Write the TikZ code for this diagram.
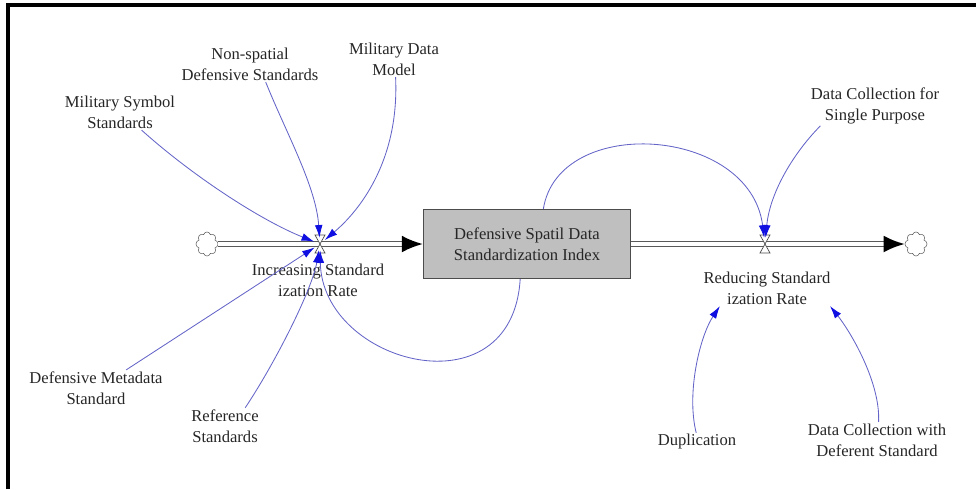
\documentclass[tikz,border=0pt]{standalone}
\usepackage{fontspec}
\setmainfont{Liberation Serif}
\usetikzlibrary{arrows.meta,shapes.symbols}
\definecolor{linkblue}{RGB}{100,100,200}
\definecolor{tipblue}{RGB}{15,15,225}

\begin{document}
\begin{tikzpicture}[x=0.025cm,y=-0.025cm,>={Latex[length=9pt,width=5.5pt,color=tipblue]},font=\fontsize{11.8}{15}\selectfont,
    var/.style={align=center,inner sep=1pt,text=black!85},
    stock/.style={draw=black!70,fill=black!25,line width=0.8pt,minimum width=5.175cm,minimum height=1.725cm,align=center,inner sep=1pt,text=black!85},
    rate/.style={circle,inner sep=0pt,minimum size=0.3cm},
    source/.style={cloud,cloud puffs=8,draw=black!60,fill=white,minimum width=0.55cm,minimum height=0.6cm,inner sep=0pt},
    pipe/.style={draw=black!65,line width=0.7pt,double,double distance=2.4pt,shorten >=9pt},
    pipe tip/.style={white,line width=1.6pt,-{Latex[length=15pt,width=12pt,color=black]}},
    valve/.style={draw=black!70,fill=white,line width=0.5pt},
    link/.style={->,draw=linkblue,line width=0.6pt}]
    \useasboundingbox (0,0) rectangle (976,489);
    \draw[line width=2.8pt] (8,489) -- (8,5) -- (976,5);

    % stock and flows
    \node[source] (cloudL) at (207,244) {};
    \node[rate] (vL) at (320,244) {};
    \node[var] (rL) at (318,280) {Increasing Standard\\ization Rate};
    \node[stock] (index) at (527,244) {Defensive Spatil Data\\Standardization Index};
    \node[rate] (vR) at (765,244) {};
    \node[var] (rR) at (767,288) {Reducing Standard\\ization Rate};
    \node[source] (cloudR) at (916,244) {};

    % auxiliaries
    \node[var] (mss) at (120,112) {Military Symbol\\Standards};
    \node[var] (nsd) at (250,64) {Non-spatial\\Defensive Standards};
    \node[var] (mdm) at (394,59) {Military Data\\Model};
    \node[var] (dms) at (96,388) {Defensive Metadata\\Standard};
    \node[var] (rs) at (225,426) {Reference\\Standards};
    \node[var] (dcsp) at (875,106) {Data Collection for\\Single Purpose};
    \node[var] (dup) at (697,442) {Duplication};
    \node[var] (dcds) at (877,440) {Data Collection with\\Deferent Standard};

    \draw[pipe] (cloudL) -- (index);
    \draw[pipe tip] (cloudL) -- (index);
    \draw[pipe] (index) -- (cloudR);
    \draw[pipe tip] (index) -- (cloudR);
    \draw[valve] (vL.center) -- ++(-5,-9) -- ++(10,0) -- cycle (vL.center) -- ++(-5,9) -- ++(10,0) -- cycle;
    \draw[valve] (vR.center) -- ++(-5,-9) -- ++(10,0) -- cycle (vR.center) -- ++(-5,9) -- ++(10,0) -- cycle;

    % influences
    \draw[link] (mss.-40) .. controls +(50,45) and +(-60,-24) .. (vL);
    \draw[link] (nsd.-49) .. controls +(20,50) and +(-4,-58) .. (vL);
    \draw[link] (mdm.-85) .. controls +(4,85) and +(38,-32) .. (vL);
    \draw[link] (dms.31) -- (vL);
    \draw[link] (rs.42) .. controls +(30,-45) and +(-8,46) .. (vL);
    \draw[link] (index.-101) .. controls +(-8,135) and +(2,120) .. (vL);
    \draw[link] (index.65) .. controls +(15,-95) and +(-15,-118) .. (vR);
    \draw[link] (dcsp.-160) .. controls +(-25,25) and +(5,-53) .. (vR);
    \draw[link] (dup.95) .. controls +(-10,-40) and +(-20,30) .. (rR.-159);
    \draw[link] (dcds.85) .. controls +(2,-40) and +(20,25) .. (rR.-16);
\end{tikzpicture}
\end{document}
